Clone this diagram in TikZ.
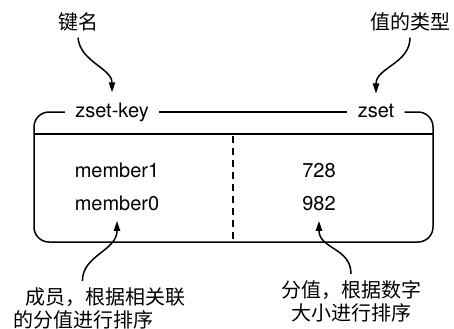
\documentclass[tikz,border=0pt]{standalone}
\usepackage{fontspec}
\setmainfont{TeX Gyre Heros}
\newfontfamily\cjk{Noto Sans CJK SC}
\usetikzlibrary{positioning}
\usetikzlibrary{arrows.meta}

\begin{document}
\begin{tikzpicture}[x=0.5pt,y=-0.5pt,
	every node/.style={font=\fontsize{10}{12}\selectfont},
	note/.style={font=\cjk\fontsize{10}{11.5}\selectfont,inner sep=3pt},
	label/.style={inner sep=5pt,anchor=mid},
	pointer/.style={line width=0.75pt,-{Triangle[length=5pt,width=3.2pt]}},
	frame/.style={line width=0.75pt}]
	\useasboundingbox (0,0) rectangle (454,328);
	% notes above
	\node[note] (keyname) at (78,22) {键名};
	\node[note] (valtype) at (410,22) {值的类型};
	% header of the box
	\node[label] (zsetkey) at (112,112) {zset-key};
	\node[label] (zsettype) at (376,112) {zset};
	\draw[frame,rounded corners=7.5pt] (zsetkey.mid west) -- (34,112) -- (34,242)
		-- (433,242) -- (433,112) -- (zsettype.mid east);
	\draw[frame] (zsetkey.mid east) -- (zsettype.mid west);
	\draw[frame] (34,134) -- (433,134);
	\draw[frame,dash pattern=on 3.5pt off 2.5pt] (233,136) -- (233,242);
	% members and scores
	\node[label] (member1) at (117,172) {member1};
	\node[label] (member0) at (117,205) {member0};
	\node[label] (score1) at (319,172) {728};
	\node[label] (score0) at (319,205) {982};
	% notes below
	\node[note,anchor=north west,align=left] (memberdesc) at (7,281)
		{\hspace{6pt}成员，根据相关联\\的分值进行排序};
	\node[note,align=center] (scoredesc) at (351,301) {分值，根据数字\\大小进行排序};
	%%%%%%%%%%
	\draw[pointer] (keyname.south) .. controls +(2,24) and +(0,-24) .. (zsetkey.north);
	\draw[pointer] (valtype.south) .. controls +(0,26) and +(0,-26) .. (zsettype.north);
	\draw[pointer] ([xshift=-8.5pt]memberdesc.north) .. controls +(0,-26) and +(0,30) .. (member0.south);
	\draw[pointer] (scoredesc.north) .. controls +(0,-26) and +(0,28) .. (score0.south);
\end{tikzpicture}
\end{document}
